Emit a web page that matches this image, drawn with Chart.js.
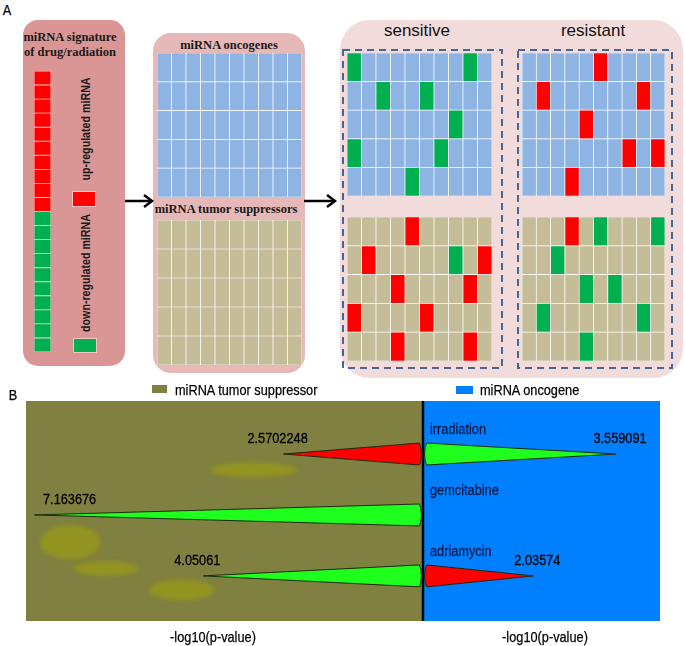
<!DOCTYPE html>
<html>
<head>
<meta charset="utf-8">
<script src="https://cdn.jsdelivr.net/npm/chart.js@4.4.0/dist/chart.umd.min.js"></script>
<style>
body { margin: 0; background: #fff; }
#fig { position: relative; width: 685px; height: 646px; overflow: hidden; font-family: 'Liberation Sans', Arial, sans-serif; color: #000; }
#fig canvas, .box, .t, .sq, svg { position: absolute; }
.t { white-space: nowrap; transform: translate(-50%, -50%); line-height: 1; }
.n { transform: translate(-50%, -50%) scaleX(0.85); -webkit-text-stroke: 0.25px #000; }
.nl { white-space: nowrap; line-height: 1; position: absolute; transform-origin: 0 50%; transform: translateY(-50%) scaleX(0.85); -webkit-text-stroke: 0.25px #000; }
.serif { font-family: 'Liberation Serif', 'DejaVu Serif', serif; font-weight: bold; font-size: 12.5px; color: #1a1a1a; }
.rot { transform: translate(-50%, -50%) rotate(-90deg) scaleX(0.82); }
</style>
</head>
<body>
<div id="fig">
  <!-- panel A backgrounds -->
  <div class="box" style="left:23px;top:20px;width:102px;height:346px;border-radius:15px;background:#d99694"></div>
  <div class="box" style="left:153px;top:33px;width:152px;height:340px;border-radius:18px;background:#e6b9b8"></div>
  <div class="box" style="left:340px;top:20px;width:343px;height:358px;border-radius:30px;background:#f2dcdb"></div>

  <div class="t n" style="left:7px;top:9px;font-size:15px">A</div>
  <div class="t serif" style="left:70px;top:37px">miRNA signature</div>
  <div class="t serif" style="left:70px;top:52px">of drug/radiation</div>
  <div class="t rot" style="left:85px;top:129px;font-size:13px;font-weight:bold;color:#1a1a1a">up-regulated miRNA</div>
  <div class="t rot" style="left:85px;top:273px;font-size:13px;font-weight:bold;color:#1a1a1a">down-regulated miRNA</div>
  <div class="sq" style="left:72px;top:191px;width:22px;height:14px;background:#ff0000;border:1px solid #f7c4c4"></div>
  <div class="sq" style="left:73px;top:338px;width:22px;height:13px;background:#00b050;border:1px solid #f7c4c4"></div>
  <div class="t serif" style="left:229px;top:45px">miRNA oncogenes</div>
  <div class="t serif" style="left:226px;top:209px">miRNA tumor suppressors</div>
  <div class="t" style="left:417px;top:30px;font-size:17px;color:#111">sensitive</div>
  <div class="t" style="left:593px;top:30px;font-size:17px;color:#111">resistant</div>

  <canvas id="sig" width="17" height="281" style="left:34px;top:71px"></canvas>
  <canvas id="onco" width="145" height="144" style="left:157px;top:53px"></canvas>
  <canvas id="supp" width="145" height="145" style="left:157px;top:220px"></canvas>
  <canvas id="sensOnco" width="145" height="143" style="left:347px;top:53px"></canvas>
  <canvas id="resOnco" width="143" height="143" style="left:522px;top:53px"></canvas>
  <canvas id="sensSupp" width="145" height="144" style="left:347px;top:217px"></canvas>
  <canvas id="resSupp" width="143" height="144" style="left:522px;top:217px"></canvas>

  <svg width="685" height="646" style="left:0;top:0">
    <g stroke="#000" stroke-width="2.5" fill="none">
      <line x1="125" y1="201" x2="151" y2="201"/>
      <path d="M144,195 L152,201 L144,207"/>
      <line x1="304" y1="201" x2="334" y2="201"/>
      <path d="M327,195 L335,201 L327,207"/>
    </g>
    <g stroke="#4a6591" stroke-width="2" fill="none" stroke-dasharray="7,5">
      <rect x="343" y="50" width="159" height="318"/>
      <rect x="518" y="50" width="154" height="318"/>
    </g>
  </svg>

  <!-- panel B -->
  <div class="t n" style="left:13px;top:394px;font-size:15px">B</div>
  <div class="sq" style="left:152px;top:385px;width:15px;height:8px;background:#808040"></div>
  <div class="nl" style="left:175px;top:389px;font-size:15px">miRNA tumor suppressor</div>
  <div class="sq" style="left:456px;top:386px;width:17px;height:8px;background:#0080ff"></div>
  <div class="nl" style="left:480px;top:389px;font-size:15px">miRNA oncogene</div>
  <canvas id="scores" width="634" height="220" style="left:26px;top:401px"></canvas>
  <div class="t n" style="left:213px;top:636px;font-size:15px">-log10(p-value)</div>
  <div class="t n" style="left:545px;top:636px;font-size:15px">-log10(p-value)</div>
</div>

<script>
// ---------- panel A data ----------
const signature = ['up','up','up','up','up','up','up','up','up','up',
                   'down','down','down','down','down','down','down','down','down','down'];
const gridCols = 10;
const gridRows = 5;
// highlighted cells as [row, col], row 0 at the top
const sensOncoDown = [[0,0],[0,8],[1,2],[1,5],[2,7],[3,0],[3,6],[4,4]];
const sensOncoUp = [];
const resOncoUp = [[0,5],[1,1],[1,8],[2,4],[3,7],[3,9],[4,3]];
const resOncoDown = [];
const sensSuppUp = [[0,4],[1,1],[1,9],[2,3],[2,8],[3,0],[3,5],[4,3],[4,8]];
const sensSuppDown = [[1,7]];
const resSuppUp = [[0,3]];
const resSuppDown = [[0,5],[0,9],[1,2],[2,4],[2,6],[3,1],[3,8],[4,4]];

// ---------- panel B data ----------
const drugs = ['irradiation', 'gemcitabine', 'adriamycin'];
const suppressorScores = [2.5702248, 7.163676, 4.05061];
const suppressorDirection = ['up', 'down', 'down'];
const oncogeneScores = [3.559091, null, 2.03574];
const oncogeneDirection = ['down', null, 'up'];

const RED = '#ff0000';
const GREEN = '#00b050';
const BLUE_CELL = '#8db4e2';
const TAN_CELL = '#c4bd97';

function makeGrid(id, cols, rows, base, up, down, lineColor, lineWidth) {
  const has = (list, r, c) => list.some(p => p[0] === r && p[1] === c);
  const colour = (r, c) => has(up, r, c) ? RED : has(down, r, c) ? GREEN : base;
  const datasets = [];
  for (let r = rows - 1; r >= 0; r--) {
    datasets.push({
      data: Array(cols).fill(1),
      backgroundColor: Array.from({length: cols}, (_, c) => colour(r, c)),
      borderColor: lineColor,
      borderWidth: lineWidth,
      borderSkipped: false
    });
  }
  new Chart(document.getElementById(id), {
    type: 'bar',
    data: { labels: Array.from({length: cols}, (_, c) => c + 1), datasets: datasets },
    options: {
      responsive: false,
      animation: false,
      events: [],
      layout: { padding: 0 },
      datasets: { bar: { barPercentage: 1, categoryPercentage: 1 } },
      plugins: { legend: { display: false }, tooltip: { enabled: false } },
      scales: {
        x: { display: false, stacked: true },
        y: { display: false, stacked: true, min: 0, max: rows }
      }
    }
  });
}

const sigUp = signature.map((s, i) => s === 'up' ? [i, 0] : null).filter(Boolean);
const sigDown = signature.map((s, i) => s === 'down' ? [i, 0] : null).filter(Boolean);
makeGrid('sig', 1, signature.length, '#ccc', sigUp, sigDown, '#f7c9c8', 0.8);
makeGrid('onco', gridCols, gridRows, BLUE_CELL, [], [], '#fff', 0.7);
makeGrid('supp', gridCols, gridRows, TAN_CELL, [], [], '#fff', 0.7);
makeGrid('sensOnco', gridCols, gridRows, BLUE_CELL, sensOncoUp, sensOncoDown, '#fff', 0.7);
makeGrid('resOnco', gridCols, gridRows, BLUE_CELL, resOncoUp, resOncoDown, '#fff', 0.7);
makeGrid('sensSupp', gridCols, gridRows, TAN_CELL, sensSuppUp, sensSuppDown, '#fff', 0.7);
makeGrid('resSupp', gridCols, gridRows, TAN_CELL, resSuppUp, resSuppDown, '#fff', 0.7);

// ---------- panel B chart ----------
const rowY = [3, 2, 1];
const WEDGE_RED = '#ff0000';
const WEDGE_GREEN = '#1eff1e';
const halfH = 0.18;
const NARROW = 0.85;

function wedge(value, side, y) {
  const b0 = side * 0.065, b1 = side * 0.04, b2 = side * 0.028;
  return [
    {x: b0, y: y + halfH},
    {x: side * value, y: y},
    {x: b0, y: y - halfH},
    {x: b1, y: y - halfH * 0.6},
    {x: b2, y: y},
    {x: b1, y: y + halfH * 0.6},
    {x: b0, y: y + halfH}
  ];
}

const wedgeSets = [];
drugs.forEach((d, i) => {
  if (suppressorScores[i] != null) {
    const c = suppressorDirection[i] === 'up' ? WEDGE_RED : WEDGE_GREEN;
    wedgeSets.push({ label: d + ' suppressor', data: wedge(suppressorScores[i], -1, rowY[i]),
      backgroundColor: c, borderColor: '#1c2a10', borderWidth: 1, fill: 'shape' });
  }
  if (oncogeneScores[i] != null) {
    const c = oncogeneDirection[i] === 'up' ? WEDGE_RED : WEDGE_GREEN;
    wedgeSets.push({ label: d + ' oncogene', data: wedge(oncogeneScores[i], 1, rowY[i]),
      backgroundColor: c, borderColor: '#1c2a10', borderWidth: 1, fill: 'shape' });
  }
});

const halves = {
  id: 'halves',
  beforeDatasetsDraw(chart) {
    const {ctx, chartArea: a, scales: {x, y}} = chart;
    const x0 = x.getPixelForValue(0);
    ctx.save();
    ctx.fillStyle = '#808040';
    ctx.fillRect(a.left, a.top, x0 - a.left, a.bottom - a.top);
    ctx.fillStyle = '#0080ff';
    ctx.fillRect(x0, a.top, a.right - x0, a.bottom - a.top);
    // soft yellowish smudges in the suppressor half
    ctx.filter = 'blur(2px)';
    ctx.fillStyle = 'rgba(155,155,20,0.7)';
    [[-3.12, 2.74, 0.8, 0.12], [-6.5, 1.55, 0.55, 0.28], [-5.85, 1.12, 0.6, 0.12], [-4.45, 0.77, 0.6, 0.17]]
      .forEach(([bx, by, rx, ry]) => {
        const px = x.getPixelForValue(bx), py = y.getPixelForValue(by);
        ctx.beginPath();
        ctx.ellipse(px, py, Math.abs(x.getPixelForValue(bx + rx) - px), Math.abs(y.getPixelForValue(by + ry) - py), 0, 0, Math.PI * 2);
        ctx.fill();
      });
    ctx.filter = 'none';
    ctx.strokeStyle = '#000';
    ctx.lineWidth = 2.5;
    ctx.beginPath();
    ctx.moveTo(x0, a.top);
    ctx.lineTo(x0, a.bottom);
    ctx.stroke();
    ctx.restore();
  }
};

function narrowText(ctx, s, px, py) {
  ctx.save();
  ctx.translate(px, py);
  ctx.scale(NARROW, 1);
  ctx.fillText(s, 0, 0);
  ctx.lineWidth = 0.3;
  ctx.strokeStyle = ctx.fillStyle;
  ctx.strokeText(s, 0, 0);
  ctx.restore();
}

const labels = {
  id: 'labels',
  afterDatasetsDraw(chart) {
    const {ctx, chartArea: a, scales: {x, y}} = chart;
    const x0 = x.getPixelForValue(0);
    ctx.save();
    ctx.font = '15px "Liberation Sans", Arial, sans-serif';
    ctx.textBaseline = 'middle';
    drugs.forEach((d, i) => {
      const py = y.getPixelForValue(rowY[i]);
      ctx.fillStyle = '#0c1a48';
      ctx.textAlign = 'left';
      narrowText(ctx, d, x0 + 7, py - 24);
      ctx.fillStyle = '#000';
      ctx.textAlign = 'center';
      if (suppressorScores[i] != null) {
        const s = String(suppressorScores[i]);
        const w = ctx.measureText(s).width * NARROW;
        const tip = x.getPixelForValue(-suppressorScores[i]);
        narrowText(ctx, s, Math.max(tip - 6, a.left + 17 + w / 2), py - 15);
      }
      if (oncogeneScores[i] != null) {
        const s = String(oncogeneScores[i]);
        const tip = x.getPixelForValue(oncogeneScores[i]);
        narrowText(ctx, s, tip + 4, py - 15);
      }
    });
    ctx.restore();
  }
};

new Chart(document.getElementById('scores'), {
  type: 'scatter',
  data: { datasets: wedgeSets },
  options: {
    responsive: false,
    animation: false,
    events: [],
    layout: { padding: 0 },
    showLine: true,
    elements: { point: { radius: 0 }, line: { tension: 0 } },
    plugins: { legend: { display: false }, tooltip: { enabled: false } },
    scales: {
      x: { type: 'linear', display: false, min: -7.32, max: 4.37 },
      y: { type: 'linear', display: false, min: 0.26, max: 3.87 }
    }
  },
  plugins: [halves, labels]
});
</script>
</body>
</html>
